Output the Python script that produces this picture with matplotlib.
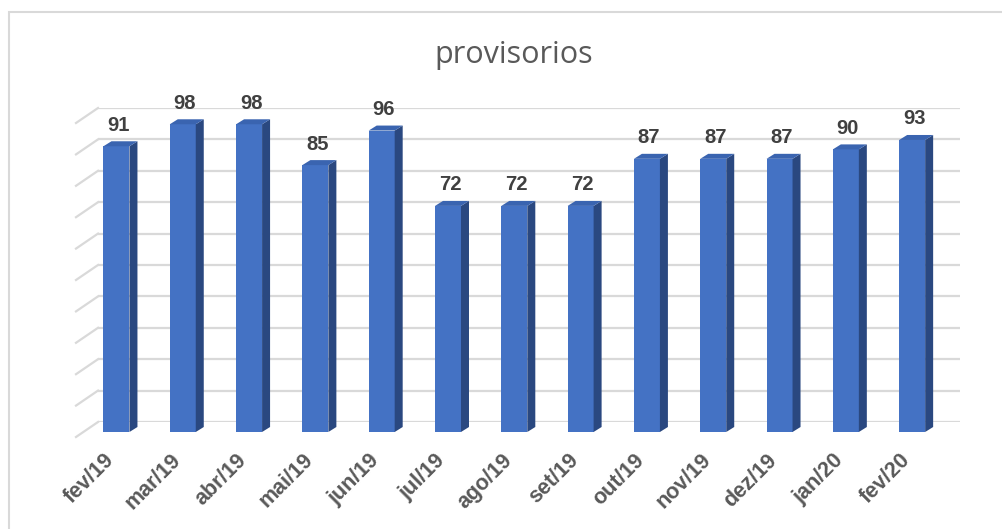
import numpy as np
import matplotlib
matplotlib.use('Agg')
import matplotlib.pyplot as plt
import matplotlib.transforms as mtransforms
from matplotlib.patches import Polygon, Rectangle

# Data
months = ['fev/19', 'mar/19', 'abr/19', 'mai/19', 'jun/19', 'jul/19', 'ago/19',
          'set/19', 'out/19', 'nov/19', 'dez/19', 'jan/20', 'fev/20']
values = [91, 98, 98, 85, 96, 72, 72, 72, 87, 87, 87, 90, 93]
grid_levels = list(range(0, 101, 10))

W, H = 1003, 529
fig = plt.figure(figsize=(W / 100, H / 100), dpi=100)

# outer frame of the chart area
fig.patches.append(Rectangle((9 / W, -0.1), 1.2, (H - 12) / H + 0.1,
                             transform=fig.transFigure, fill=False,
                             edgecolor='#d9d9d9', linewidth=1.5))

# back wall of the 3d chart: x 98..960 px, y 108..422 px
ax = fig.add_axes([98 / W, 1 - 422 / H, (960 - 98) / W, (422 - 108) / H])
ax.set_xlim(-0.5, len(months) - 0.5)
ax.set_ylim(0, 100)
for s in ax.spines.values():
    s.set_visible(False)
ax.set_yticks([])
ax.patch.set_alpha(0)

px_x = (960 - 98) / len(months)   # pixels per category
px_y = (422 - 108) / 100          # pixels per unit

# perspective offsets (pixels) turned into data units
wall_dx, wall_dy = -22 / px_x, -15 / px_y
front_dx, front_dy = -14.7 / px_x, -10 / px_y
depth_dx, depth_dy = 8 / px_x, 5 / px_y
bar_w = 26 / px_x

grid_col = '#d9d9d9'
for g in grid_levels:
    ax.plot([-0.5, len(months) - 0.5], [g, g], color=grid_col, lw=1.6, zorder=1)
    ax.plot([-0.5 + wall_dx, -0.5], [g + wall_dy, g], color=grid_col, lw=1.6,
            zorder=1, clip_on=False)

front_col = '#4472c4'
side_col = '#2a4880'
top_col = '#3a64b0'

x = np.arange(len(months))
xf = x + front_dx
ax.bar(xf, values, width=bar_w, bottom=front_dy, color=front_col,
       zorder=3, clip_on=False)

for xi, v in zip(xf, values):
    top = v + front_dy
    l, r = xi - bar_w / 2, xi + bar_w / 2
    side = Polygon([(r, front_dy), (r + depth_dx, front_dy + depth_dy),
                    (r + depth_dx, top + depth_dy), (r, top)],
                   closed=True, facecolor=side_col, edgecolor='none',
                   zorder=3, clip_on=False)
    cap = Polygon([(l, top), (r, top), (r + depth_dx, top + depth_dy),
                   (l + depth_dx, top + depth_dy)],
                  closed=True, facecolor=top_col, edgecolor='none',
                  zorder=3, clip_on=False)
    ax.add_patch(side)
    ax.add_patch(cap)
    ax.annotate(f'{v}', xy=(xi, top), xytext=(2, 21), textcoords='offset pixels',
                ha='center', va='center', fontsize=14.5, fontweight='bold',
                color='#404040', family='Liberation Sans')

ax.set_xticks(xf)
ax.set_xticklabels(months, rotation=45, ha='right', rotation_mode='anchor',
                   fontsize=15.5, fontweight='bold', color='#595959',
                   family='Liberation Sans')
ax.tick_params(axis='x', length=0, pad=20)
shift = mtransforms.ScaledTranslation(-0.13, 0, fig.dpi_scale_trans)
for lab in ax.get_xticklabels():
    lab.set_transform(lab.get_transform() + shift)

fig.text(514 / W, 1 - 55 / H, 'provisorios', ha='center', va='center',
         fontsize=22, color='#595959', family='Open Sans')

fig.savefig('out.png', dpi=100)
